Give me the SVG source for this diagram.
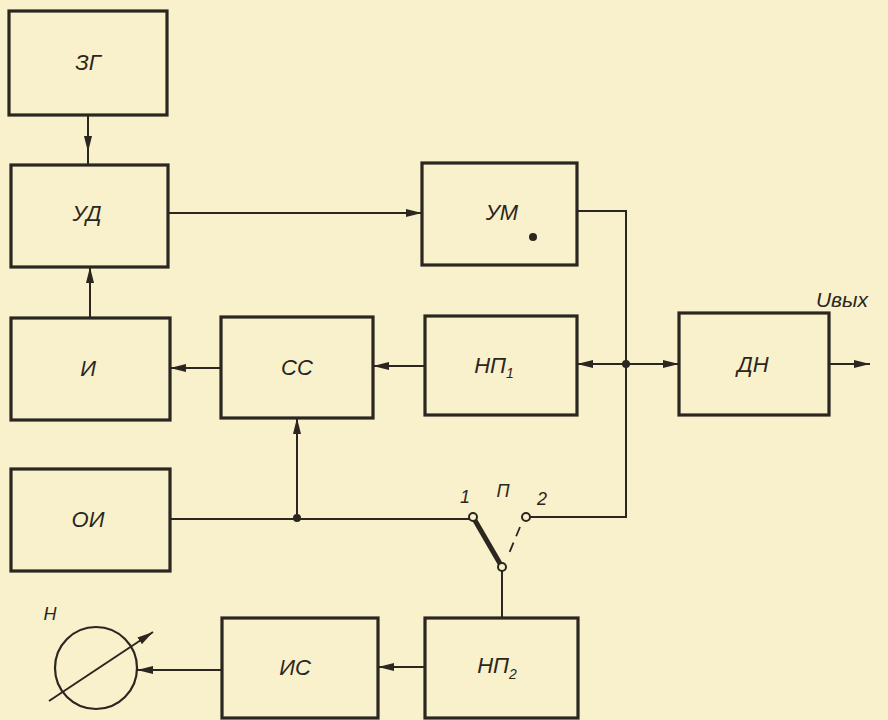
<svg xmlns="http://www.w3.org/2000/svg" width="888" height="720" viewBox="0 0 888 720">
<style>
.box{fill:none;stroke:#2b2620;stroke-width:3.2}
.ln{fill:none;stroke:#2b2620;stroke-width:2}
.lbl{font-family:"Liberation Sans",Arial,sans-serif;font-style:italic;font-size:22px;fill:#2b2620;text-anchor:middle}
.sm{font-family:"Liberation Sans",Arial,sans-serif;font-style:italic;font-size:18px;fill:#2b2620;text-anchor:middle}
</style>
<defs>
<marker id="ar" viewBox="0 0 16 9" refX="16" refY="4.5" markerWidth="16" markerHeight="9" markerUnits="userSpaceOnUse" orient="auto">
<path d="M0,0.5 L16,4.5 L0,8.5 Z" fill="#2b2620"/>
</marker>
</defs>
<rect width="888" height="720" fill="#f8f1cc"/>
<g id="connectors">
<path class="ln" d="M88,115 V152" marker-end="url(#ar)"/><path class="ln" d="M88,150 V165"/>
<path class="ln" d="M168,213 H422" marker-end="url(#ar)"/>
<path class="ln" d="M90,318 V267" marker-end="url(#ar)"/>
<path class="ln" d="M577,211 H626 V517 H530"/>
<path class="ln" d="M626,364 H577" marker-end="url(#ar)"/>
<path class="ln" d="M626,364 H679" marker-end="url(#ar)"/>
<circle cx="626" cy="364" r="4" fill="#2b2620"/>
<path class="ln" d="M829,364 H870" marker-end="url(#ar)"/>
<path class="ln" d="M425,366 H373" marker-end="url(#ar)"/>
<path class="ln" d="M221,368 H170" marker-end="url(#ar)"/>
<path class="ln" d="M170,519 H469"/>
<path class="ln" d="M297,519 V418" marker-end="url(#ar)"/>
<circle cx="297" cy="518" r="4" fill="#2b2620"/>
<path class="ln" d="M502,571 V618"/>
<path class="ln" d="M425,667 H378" marker-end="url(#ar)"/>
<path class="ln" d="M222,670 H137" marker-end="url(#ar)"/>
</g>
<g id="switch">
<line x1="473" y1="517" x2="502" y2="567" stroke="#2b2620" stroke-width="5"/>
<circle cx="473" cy="517" r="4" fill="#f8f1cc" stroke="#2b2620" stroke-width="2"/>
<circle cx="526" cy="517" r="4" fill="#f8f1cc" stroke="#2b2620" stroke-width="2"/>
<circle cx="502" cy="567" r="4" fill="#f8f1cc" stroke="#2b2620" stroke-width="2"/>
<line x1="520" y1="527" x2="508" y2="556" stroke="#2b2620" stroke-width="1.8" stroke-dasharray="10,7"/>
<text class="sm" x="465" y="503">1</text>
<text class="sm" x="503" y="497">П</text>
<text class="sm" x="542" y="505">2</text>
</g>
<g id="meter">
<circle cx="96" cy="668" r="41" fill="none" stroke="#2b2620" stroke-width="2.2"/>
<path class="ln" d="M49,701 L153,632" marker-end="url(#ar)"/>
<text class="sm" x="50" y="620">Н</text>
</g>
<g id="zg"><rect class="box" x="9" y="11" width="158" height="104"/><text class="lbl" x="88" y="70">ЗГ</text></g>
<g id="ud"><rect class="box" x="11" y="165" width="157" height="102"/><text class="lbl" x="87" y="221">УД</text></g>
<g id="um"><rect class="box" x="422" y="163" width="155" height="102"/><text class="lbl" x="502" y="220">УМ</text><circle cx="533" cy="237" r="4" fill="#2b2620"/></g>
<g id="i"><rect class="box" x="11" y="318" width="159" height="102"/><text class="lbl" x="88" y="376">И</text></g>
<g id="ss"><rect class="box" x="221" y="317" width="152" height="101"/><text class="lbl" x="297" y="375">СС</text></g>
<g id="np1"><rect class="box" x="425" y="316" width="152" height="99"/><text class="lbl" x="494" y="373">НП<tspan font-size="14" dy="5">1</tspan></text></g>
<g id="dn"><rect class="box" x="679" y="313" width="150" height="102"/><text class="lbl" x="753" y="372">ДН</text></g>
<g id="oi"><rect class="box" x="11" y="469" width="159" height="102"/><text class="lbl" x="88" y="527">ОИ</text></g>
<g id="is"><rect class="box" x="222" y="618" width="156" height="100"/><text class="lbl" x="295" y="675">ИС</text></g>
<g id="np2"><rect class="box" x="425" y="618" width="153" height="100"/><text class="lbl" x="497" y="673">НП<tspan font-size="14" dy="6">2</tspan></text></g>
<text class="sm" x="842" y="307" style="font-size:21px">Uвых</text>
</svg>
